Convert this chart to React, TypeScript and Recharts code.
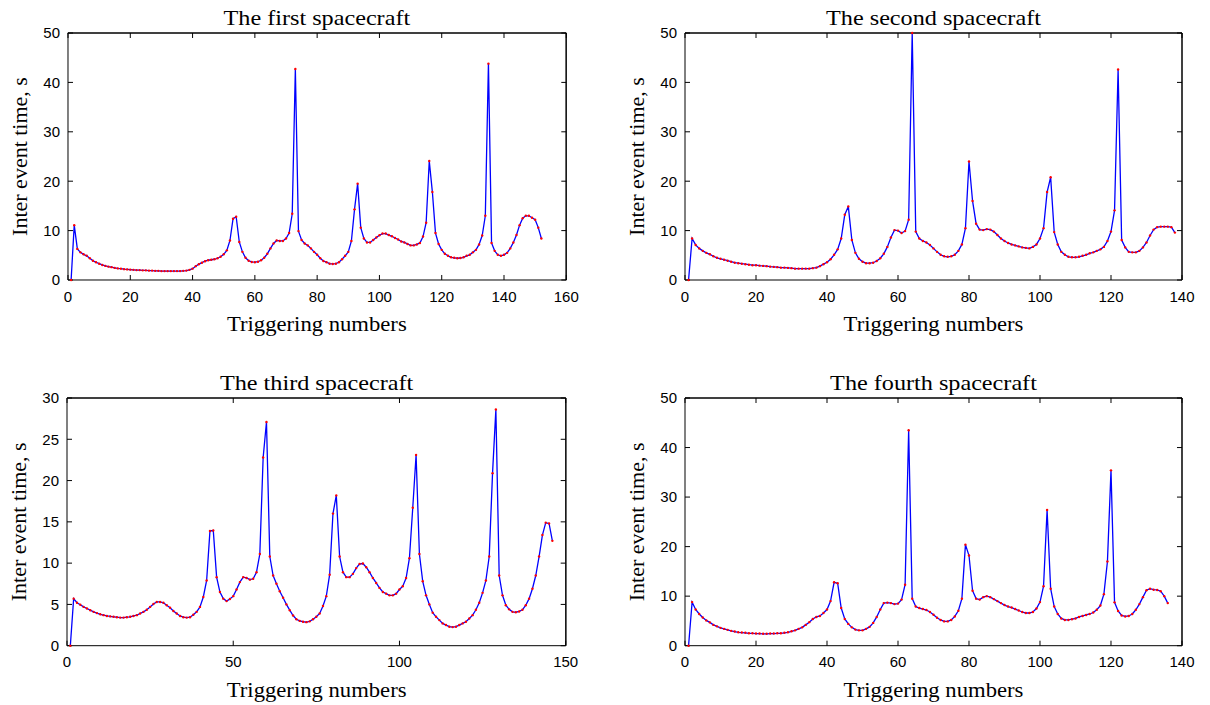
import React from 'react';
import { LineChart, Line, XAxis, YAxis } from 'recharts';

// ---------- tick labels ----------
const xTicks160 = [0, 20, 40, 60, 80, 100, 120, 140, 160];
const xTicks140 = [0, 20, 40, 60, 80, 100, 120, 140];
const xTicks150 = [0, 50, 100, 150];
const yTicks50 = [0, 10, 20, 30, 40, 50];
const yTicks30 = [0, 5, 10, 15, 20, 25, 30];

// ---------- titles ----------
const titles = ['The first spacecraft', 'The second spacecraft', 'The third spacecraft', 'The fourth spacecraft'];
const xLabel = 'Triggering numbers';
const yLabel = 'Inter event time, s';

// ---------- series values (inter event time, s) for triggering numbers 1..N ----------
const first = [
  0, 11.1, 6.3, 5.6, 5.2, 4.9, 4.4, 3.9, 3.6, 3.3,
  3.05, 2.85, 2.7, 2.6, 2.45, 2.35, 2.3, 2.2, 2.15, 2.1,
  2.05, 2.0, 2.0, 1.95, 1.95, 1.9, 1.9, 1.85, 1.85, 1.8,
  1.8, 1.8, 1.8, 1.8, 1.8, 1.8, 1.85, 1.9, 2.05, 2.3,
  2.8, 3.2, 3.5, 3.8, 4.0, 4.1, 4.2, 4.4, 4.7, 5.2,
  6.0, 8.0, 12.4, 12.8, 7.7, 5.7, 4.5, 3.9, 3.65, 3.6,
  3.7, 4.0, 4.5, 5.3, 6.4, 7.4, 8.0, 7.9, 7.9, 8.4,
  9.5, 13.4, 42.7, 9.9, 8.1, 7.4, 7.0, 6.4, 5.7, 5.1,
  4.4, 3.85, 3.6, 3.3, 3.25, 3.3, 3.6, 4.2, 4.9, 5.7,
  7.9, 14.3, 19.5, 10.6, 8.4, 7.6, 7.6, 8.1, 8.6, 9.05,
  9.4, 9.4, 9.1, 8.85, 8.5, 8.2, 7.8, 7.6, 7.3, 7.0,
  7.0, 7.2, 7.5, 8.8, 11.6, 24.1, 17.8, 9.5, 7.3, 6.1,
  5.3, 4.9, 4.6, 4.5, 4.4, 4.45, 4.6, 4.9, 5.1, 5.6,
  6.1, 7.2, 9.0, 13.0, 43.8, 7.5, 5.9, 5.1, 4.9, 5.1,
  5.5, 6.4, 7.6, 9.1, 11.1, 12.5, 13.0, 13.0, 12.6, 12.2,
  10.6, 8.4,
];

const second = [
  0, 8.4, 7.1, 6.4, 5.9, 5.5, 5.2, 4.8, 4.5, 4.3,
  4.1, 3.9, 3.7, 3.5, 3.4, 3.3, 3.2, 3.1, 3.0, 3.0,
  2.9, 2.85, 2.8, 2.7, 2.65, 2.6, 2.5, 2.5, 2.45, 2.4,
  2.3, 2.3, 2.3, 2.3, 2.3, 2.4, 2.5, 2.8, 3.2, 3.6,
  4.2, 5.1, 6.2, 8.4, 13.2, 14.9, 8.1, 5.5, 4.3, 3.7,
  3.4, 3.4, 3.5, 3.85, 4.4, 5.3, 6.7, 8.6, 10.1, 10.0,
  9.5, 9.9, 12.2, 50, 9.8, 8.4, 7.9, 7.6, 7.1, 6.4,
  5.7, 5.1, 4.8, 4.7, 4.8, 5.1, 5.9, 7.2, 10.5, 24.0,
  16.0, 11.4, 10.2, 10.1, 10.3, 10.2, 9.8, 9.1, 8.4, 7.9,
  7.5, 7.2, 7.0, 6.8, 6.6, 6.5, 6.4, 6.7, 7.2, 8.4,
  10.5, 17.8, 20.8, 9.7, 7.2, 5.7, 5.1, 4.7, 4.6, 4.6,
  4.7, 4.9, 5.1, 5.4, 5.6, 5.9, 6.2, 6.7, 7.9, 9.8,
  14.1, 42.6, 8.1, 6.6, 5.7, 5.6, 5.6, 5.9, 6.6, 7.6,
  9.0, 10.2, 10.7, 10.8, 10.8, 10.8, 10.7, 9.6,
];

const third = [
  0, 5.7, 5.2, 4.95, 4.7, 4.5, 4.3, 4.1, 3.95, 3.8,
  3.7, 3.6, 3.55, 3.5, 3.45, 3.4, 3.4, 3.45, 3.5, 3.6,
  3.7, 3.9, 4.1, 4.35, 4.7, 5.05, 5.3, 5.3, 5.2, 4.9,
  4.6, 4.2, 3.9, 3.6, 3.45, 3.4, 3.45, 3.75, 4.1, 4.7,
  5.9, 7.9, 13.9, 13.95, 8.3, 6.5, 5.7, 5.4, 5.65, 6.0,
  6.8, 7.7, 8.3, 8.2, 8.0, 8.1, 8.9, 11.1, 22.8, 27.1,
  10.8, 8.5, 7.5, 6.6, 5.8, 5.0, 4.3, 3.65, 3.2, 3.0,
  2.9, 2.85, 2.95, 3.2, 3.5, 3.9, 4.8, 6.0, 8.6, 16.0,
  18.2, 10.8, 8.9, 8.3, 8.3, 8.7, 9.4, 9.9, 9.95, 9.5,
  8.9, 8.2, 7.6, 7.0, 6.5, 6.3, 6.1, 6.1, 6.3, 6.8,
  7.2, 8.2, 10.6, 16.7, 23.1, 11.1, 7.8, 6.1, 5.0, 4.0,
  3.5, 3.1, 2.7, 2.5, 2.3, 2.25, 2.3, 2.5, 2.7, 2.9,
  3.3, 3.7, 4.35, 5.2, 6.4, 7.9, 10.8, 20.9, 28.6, 8.5,
  6.1, 4.9, 4.4, 4.1, 4.05, 4.15, 4.35, 4.9, 5.7, 6.9,
  8.5, 10.8, 13.4, 14.9, 14.8, 12.7,
];

const fourth = [
  0, 8.8, 7.3, 6.4, 5.7, 5.1, 4.7, 4.2, 3.9, 3.6,
  3.4, 3.2, 3.0, 2.85, 2.7, 2.65, 2.6, 2.5, 2.5, 2.45,
  2.45, 2.4, 2.4, 2.45, 2.45, 2.5, 2.5, 2.6, 2.7, 2.9,
  3.1, 3.4, 3.7, 4.2, 4.75, 5.4, 5.8, 6.0, 6.6, 7.3,
  9.0, 12.8, 12.6, 7.6, 5.4, 4.4, 3.7, 3.25, 3.1, 3.1,
  3.4, 3.8, 4.6, 5.8, 7.3, 8.6, 8.7, 8.6, 8.4, 8.5,
  9.3, 12.3, 43.5, 9.5, 7.9, 7.6, 7.4, 7.2, 6.8, 6.25,
  5.65, 5.2, 4.9, 4.9, 5.2, 5.9, 7.05, 9.5, 20.4, 18.2,
  11.1, 9.5, 9.3, 9.8, 10.0, 9.8, 9.4, 9.0, 8.6, 8.2,
  7.9, 7.7, 7.4, 7.1, 6.8, 6.6, 6.6, 6.8, 7.5, 8.8,
  12.0, 27.4, 11.5, 7.9, 6.4, 5.5, 5.2, 5.2, 5.35, 5.5,
  5.8, 6.0, 6.2, 6.4, 6.7, 7.25, 8.1, 10.4, 17.0, 35.4,
  8.75, 7.0, 6.1, 5.9, 6.0, 6.4, 7.25, 8.4, 9.8, 11.2,
  11.5, 11.3, 11.25, 11.0, 10.0, 8.6,
];

const toData = (vals: number[]) => vals.map((v, i) => ({ n: i + 1, v }));

const SANS = 'Liberation Sans, Arial, sans-serif';
const SERIF = 'Liberation Serif, Times New Roman, serif';
const TICK = 5;
const L = 50, T = 10, R = 24, B = 40;

type PanelProps = {
  left: number; top: number; width: number; height: number;
  values: number[]; xMax: number; xTicks: number[]; yMax: number; yTicks: number[];
};

// Main chart: data line, bottom x axis and left y axis with inward ticks.
function Panel({ left, top, width, height, values, xMax, xTicks, yMax, yTicks }: PanelProps) {
  const data = toData(values);
  const tickStyle = { fill: '#000', fontSize: 15, fontFamily: SANS };
  return (
    <div style={{ position: 'absolute', left: left - L, top: top - T }}>
      <LineChart width={width + L + R} height={height + T + B} data={data}
        margin={{ top: T, right: R, bottom: 0, left: 0 }}>
        <XAxis dataKey="n" type="number" domain={[0, xMax]} ticks={xTicks} interval={0}
          tickSize={-TICK} tickMargin={16} height={B} stroke="#000" tick={tickStyle} />
        <YAxis type="number" domain={[0, yMax]} ticks={yTicks} interval={0}
          tickSize={-TICK} tickMargin={13} width={L} stroke="#000" tick={tickStyle} />
        <Line dataKey="v" type="linear" stroke="#0000ff" strokeWidth={1.3}
          dot={{ r: 1.2, fill: '#ff0000', stroke: 'none' }} isAnimationActive={false} />
      </LineChart>
    </div>
  );
}

// Frame chart: same geometry, axes only (unlabelled), turned half a turn about the
// plot centre so its bottom/left axes become the top/right frame edges with inward ticks.
function Frame({ left, top, width, height, values, xMax, xTicks, yMax, yTicks }: PanelProps) {
  const data = toData(values);
  return (
    <div style={{
      position: 'absolute', left: left - L, top: top - T, pointerEvents: 'none',
      transform: 'rotate(180deg)', transformOrigin: `${L + width / 2}px ${T + height / 2}px`,
    }}>
      <LineChart width={width + L + R} height={height + T + B} data={data}
        margin={{ top: T, right: R, bottom: 0, left: 0 }}>
        <XAxis dataKey="n" type="number" domain={[0, xMax]} ticks={xTicks} interval={0} reversed
          tickSize={-TICK} tickMargin={16} height={B} stroke="#000" tickFormatter={() => ''} />
        <YAxis type="number" domain={[0, yMax]} ticks={yTicks} interval={0} reversed
          tickSize={-TICK} tickMargin={13} width={L} stroke="#000" tickFormatter={() => ''} />
        <Line dataKey="v" type="linear" stroke="none" dot={false} isAnimationActive={false} />
      </LineChart>
    </div>
  );
}

const panels = [
  { left: 67.7, top: 33, width: 498.3, height: 247, values: first, xMax: 160, xTicks: xTicks160, yMax: 50, yTicks: yTicks50 },
  { left: 685, top: 33, width: 497, height: 247, values: second, xMax: 140, xTicks: xTicks140, yMax: 50, yTicks: yTicks50 },
  { left: 67.3, top: 398, width: 498.7, height: 247.7, values: third, xMax: 150, xTicks: xTicks150, yMax: 30, yTicks: yTicks30 },
  { left: 685, top: 398, width: 497, height: 247.7, values: fourth, xMax: 140, xTicks: xTicks140, yMax: 50, yTicks: yTicks50 },
];

export default function App() {
  return (
    <div style={{ position: 'absolute', left: 0, top: 0, width: 1210, height: 705, background: '#fff' }}>
      <svg width={1210} height={705} style={{ position: 'absolute', left: 0, top: 0 }}>
        {panels.map((p, i) => {
          const cx = p.left + p.width / 2;
          const cy = p.top + p.height / 2;
          const yx = p.left - 41;
          return (
            <g key={i}>
              {/* plot frame (top and right edges of the axes box) */}
              <line x1={p.left} y1={p.top} x2={p.left + p.width} y2={p.top} stroke="#000" strokeWidth={1} />
              <line x1={p.left + p.width} y1={p.top} x2={p.left + p.width} y2={p.top + p.height} stroke="#000" strokeWidth={1} />
              <text transform={`translate(${cx} ${p.top - 8}) scale(1.1 1)`} textAnchor="middle"
                fontFamily={SERIF} fontSize={22} fill="#000">{titles[i]}</text>
              <text transform={`translate(${cx} ${p.top + p.height + 51}) scale(1.03 1)`} textAnchor="middle"
                fontFamily={SERIF} fontSize={22} fill="#000">{xLabel}</text>
              <text x={yx} y={cy} textAnchor="middle" fontFamily={SERIF} fontSize={22} fill="#000"
                transform={`rotate(-90 ${yx} ${cy})`}>{yLabel}</text>
            </g>
          );
        })}
      </svg>
      {panels.map((p, i) => <Frame key={'f' + i} {...p} />)}
      {panels.map((p, i) => <Panel key={i} {...p} />)}
    </div>
  );
}
